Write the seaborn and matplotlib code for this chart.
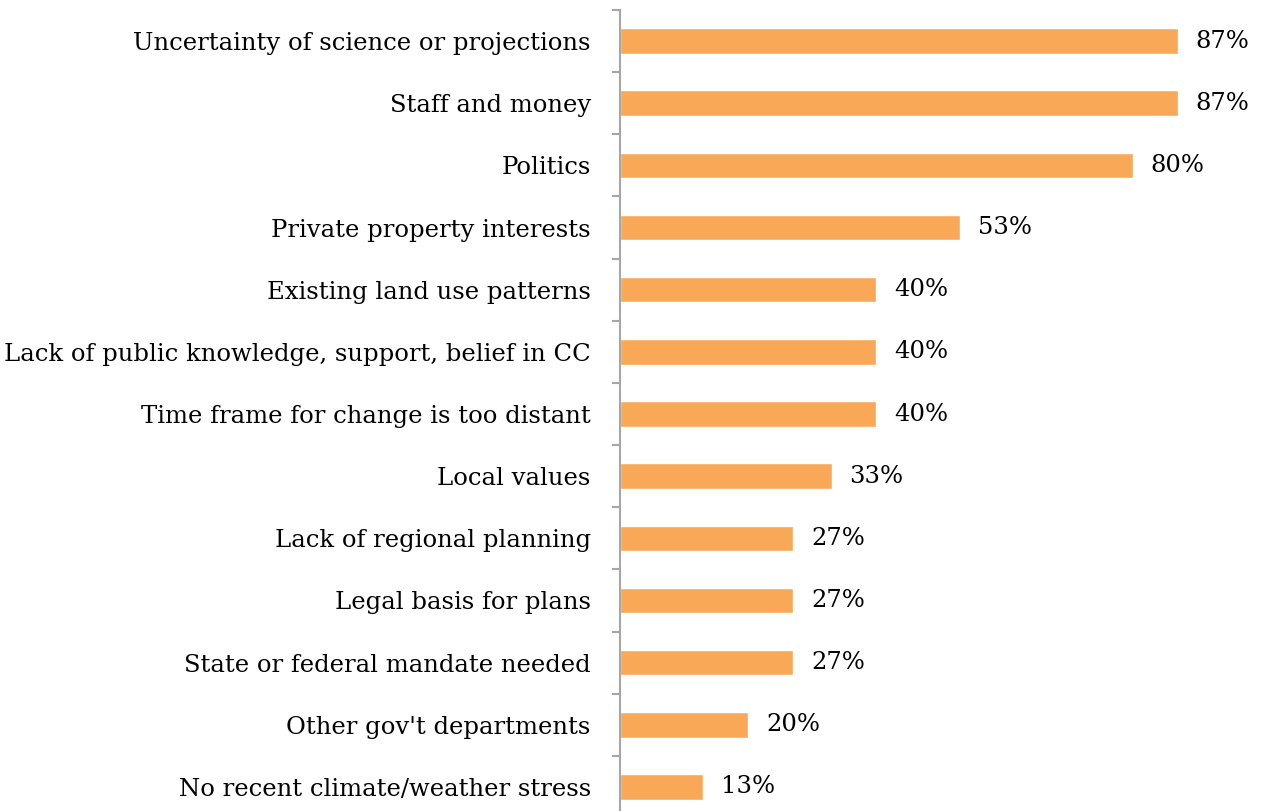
import matplotlib
matplotlib.use("Agg")
import matplotlib.pyplot as plt
import seaborn as sns
import pandas as pd
import numpy as np

categories = [
    "Uncertainty of science or projections",
    "Staff and money",
    "Politics",
    "Private property interests",
    "Existing land use patterns",
    "Lack of public knowledge, support, belief in CC",
    "Time frame for change is too distant",
    "Local values",
    "Lack of regional planning",
    "Legal basis for plans",
    "State or federal mandate needed",
    "Other gov't departments",
    "No recent climate/weather stress",
]
percent = [87, 87, 80, 53, 40, 40, 40, 33, 27, 27, 27, 20, 13]

df = pd.DataFrame({"barrier": categories, "pct": percent})

sns.set_theme(style="white")
plt.rcParams["font.family"] = ["DejaVu Serif"]

W, H = 1266, 811
fig = plt.figure(figsize=(W / 100, H / 100), dpi=100)
ax = fig.add_axes([620 / W, -7 / H, 641 / W, 808 / H])

sns.barplot(data=df, x="pct", y="barrier", orient="h", color="#F9A857",
            saturation=1, width=0.41, ax=ax)

n = len(categories)
ax.set_xlim(0, 100)
ax.set_ylim(n - 0.5, -0.5)
ax.set_xlabel("")
ax.set_ylabel("")
ax.set_xticks([])

for s in ["top", "right", "bottom"]:
    ax.spines[s].set_visible(False)
ax.spines["left"].set_color("#A6A6A6")
ax.spines["left"].set_linewidth(1.5)

# category labels at bar centres, tick marks at category boundaries
ax.set_yticks(np.arange(n))
ax.set_yticklabels(categories, fontsize=17.5, color="black")
ax.tick_params(axis="y", which="major", length=0, pad=21)
ax.set_yticks(np.arange(n + 1) - 0.5, minor=True)
ax.tick_params(axis="y", which="minor", length=6, width=1.5, color="#A6A6A6",
               left=True)

for i, v in enumerate(percent):
    ax.text(v + 2.8, i, f"{v}%", va="center", ha="left", fontsize=17.5,
            color="black", clip_on=False)

fig.savefig("out.png", dpi=100)
